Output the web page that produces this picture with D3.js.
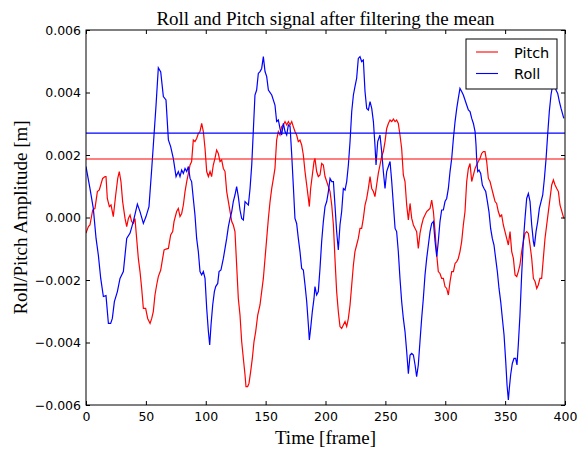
<!DOCTYPE html>
<html>
<head>
<meta charset="utf-8">
<script src="https://cdn.jsdelivr.net/npm/d3@7"></script>
<style>
  body { margin: 0; background: #fff; }
  svg { display: block; }
</style>
</head>
<body>
<svg id="chart" width="577" height="449"></svg>
<script>
// frames and values
const rollFrames = [
  0.0, 3.3, 6.1, 8.4, 10.3, 12.3, 14.5, 16.7, 18.7, 20.6, 22.0, 23.7, 26.2, 28.4, 31.2, 34.0, 36.8, 39.5, 42.9, 45.1,
  47.9, 50.1, 52.6, 54.9, 56.8, 58.5, 60.4, 62.4, 64.6, 66.8, 68.8, 70.7, 72.9, 75.2, 77.1, 78.5, 79.9, 81.3, 82.7, 84.1,
  85.5, 86.9, 88.2, 89.6, 91.0, 92.4, 93.8, 95.2, 96.6, 98.0, 99.4, 100.8, 102.2, 103.3, 104.4, 105.8, 107.2, 108.3, 110.0, 111.1,
  112.7, 114.7, 116.1, 117.5, 118.9, 120.3, 121.7, 123.0, 124.4, 125.8, 127.2, 128.6, 130.0, 131.4, 132.8, 134.2, 135.6, 137.0, 138.4, 139.7,
  141.1, 142.5, 143.9, 145.3, 146.7, 148.1, 149.5, 150.9, 152.3, 155.1, 157.8, 159.2, 160.6, 162.0, 163.4, 164.8, 166.2, 167.6, 169.0, 170.4,
  171.8, 173.1, 174.5, 175.9, 177.3, 178.7, 180.1, 181.5, 182.9, 184.3, 185.7, 186.5, 187.6, 189.0, 190.4, 191.2, 192.6, 194.0, 195.4, 196.8,
  198.2, 199.6, 201.0, 202.4, 203.8, 205.2, 206.6, 207.9, 209.3, 210.7, 212.1, 213.5, 214.9, 216.3, 217.7, 219.1, 220.5, 221.9, 223.3, 224.6,
  226.0, 227.4, 228.8, 230.2, 231.6, 233.0, 234.4, 235.8, 237.2, 238.6, 240.0, 241.3, 242.2, 243.6, 245.5, 246.9, 248.3, 249.7, 251.1, 252.5,
  253.9, 255.3, 256.7, 258.1, 259.4, 260.8, 262.2, 263.6, 265.0, 266.4, 267.8, 269.2, 270.6, 272.0, 273.4, 274.8, 276.1, 277.5, 278.9, 280.3,
  281.7, 283.1, 284.5, 285.9, 287.3, 288.7, 290.1, 291.5, 292.9, 294.2, 295.6, 297.0, 298.4, 299.8, 301.2, 302.6, 304.0, 305.4, 306.8, 308.2,
  309.6, 310.9, 312.3, 313.7, 315.1, 316.5, 317.9, 319.3, 320.7, 322.1, 323.5, 324.9, 325.7, 326.2, 327.1, 328.2, 329.6, 331.0, 332.4, 333.8,
  335.2, 336.5, 337.9, 339.3, 340.7, 342.1, 343.5, 344.9, 346.3, 347.7, 349.1, 350.5, 351.6, 352.7, 353.5, 354.6, 356.0, 357.4, 358.8, 359.9,
  361.0, 362.4, 363.8, 365.2, 366.6, 368.0, 369.4, 370.8, 372.2, 373.6, 374.4, 375.8, 377.2, 378.6, 380.0, 381.4, 382.8, 384.2, 385.5, 386.9,
  388.3, 389.7, 391.1, 392.5, 393.9, 395.3, 396.7, 399.0
]
const rollValues = [
  0.00163, 0.00093, 0.00029, -0.00067, -0.00120, -0.00195, -0.00253, -0.00250, -0.00339, -0.00339, -0.00323, -0.00269, -0.00237, -0.00195, -0.00173, -0.00067, -0.00050, -0.00013, 0.00043, 0.00019,
  -0.00019, 0.00003, 0.00035, 0.00157, 0.00264, 0.00360, 0.00479, 0.00466, 0.00387, 0.00376, 0.00248, 0.00227, 0.00189, 0.00131, 0.00147, 0.00131, 0.00152, 0.00141, 0.00157, 0.00147,
  0.00163, 0.00125, 0.00115, 0.00061, 0.00008, -0.00067, -0.00109, -0.00173, -0.00184, -0.00173, -0.00195, -0.00291, -0.00365, -0.00408, -0.00344, -0.00280, -0.00237, -0.00221, -0.00211, -0.00173,
  -0.00168, -0.00131, -0.00099, -0.00067, -0.00029, -0.00003, 0.00019, 0.00051, 0.00072, 0.00099, 0.00067, 0.00024, -0.00003, -0.00008, 0.00051, 0.00045, 0.00040, 0.00093, 0.00168, 0.00275,
  0.00392, 0.00408, 0.00461, 0.00467, 0.00477, 0.00515, 0.00467, 0.00451, 0.00408, 0.00392, 0.00360, 0.00307, 0.00312, 0.00285, 0.00264, 0.00301, 0.00275, 0.00264, 0.00296, 0.00291,
  0.00200, 0.00104, -0.00003, -0.00019, -0.00067, -0.00109, -0.00163, -0.00168, -0.00216, -0.00269, -0.00344, -0.00392, -0.00355, -0.00301, -0.00259, -0.00221, -0.00248, -0.00237, -0.00163, -0.00077,
  -0.00013, 0.00035, 0.00051, 0.00083, 0.00125, 0.00115, 0.00115, 0.00040, -0.00045, -0.00104, -0.00024, 0.00019, 0.00093, 0.00088, 0.00115, 0.00168, 0.00243, 0.00339, 0.00392, 0.00419,
  0.00445, 0.00509, 0.00515, 0.00499, 0.00504, 0.00403, 0.00349, 0.00344, 0.00371, 0.00349, 0.00307, 0.00232, 0.00168, 0.00243, 0.00264, 0.00211, 0.00147, 0.00093, 0.00147, 0.00163,
  0.00179, 0.00115, 0.00040, -0.00035, -0.00045, -0.00109, -0.00195, -0.00269, -0.00323, -0.00365, -0.00429, -0.00500, -0.00440, -0.00435, -0.00440, -0.00472, -0.00509, -0.00472, -0.00397, -0.00323,
  -0.00259, -0.00184, -0.00131, -0.00088, -0.00045, -0.00019, -0.00013, -0.00077, -0.00125, -0.00077, -0.00013, 0.00024, 0.00024, 0.00051, 0.00061, 0.00093, 0.00147, 0.00189, 0.00253, 0.00307,
  0.00349, 0.00381, 0.00413, 0.00403, 0.00392, 0.00376, 0.00360, 0.00344, 0.00339, 0.00317, 0.00301, 0.00275, 0.00232, 0.00189, 0.00147, 0.00152, 0.00141, 0.00104, 0.00093, 0.00083,
  0.00051, 0.00019, -0.00035, -0.00067, -0.00088, -0.00131, -0.00173, -0.00227, -0.00269, -0.00323, -0.00376, -0.00461, -0.00536, -0.00584, -0.00547, -0.00504, -0.00467, -0.00451, -0.00451, -0.00472,
  -0.00408, -0.00312, -0.00184, -0.00077, -0.00003, 0.00061, 0.00077, 0.00051, -0.00024, -0.00077, -0.00093, -0.00045, -0.00013, 0.00029, 0.00051, 0.00072, 0.00125, 0.00189, 0.00264, 0.00339,
  0.00392, 0.00424, 0.00429, 0.00408, 0.00397, 0.00371, 0.00349, 0.00317
]

const pitchFrames = [
  0.0, 2.0, 3.3, 5.6, 7.5, 9.5, 11.1, 12.3, 13.9, 15.9, 16.7, 17.8, 19.5, 20.9, 22.8, 24.8, 26.5, 27.8, 29.2, 30.6,
  32.6, 34.0, 35.4, 36.8, 38.1, 39.5, 40.9, 42.3, 43.7, 45.1, 46.5, 47.9, 49.8, 51.5, 53.5, 54.9, 56.2, 57.6, 59.0, 60.4,
  62.4, 64.0, 65.2, 66.8, 68.8, 70.7, 72.4, 73.5, 75.7, 77.1, 78.5, 79.9, 81.3, 82.7, 84.1, 85.5, 86.9, 88.2, 89.6, 91.0,
  92.4, 93.8, 95.2, 96.6, 98.0, 99.4, 100.8, 102.2, 103.6, 104.9, 106.3, 107.7, 109.1, 110.5, 111.9, 113.3, 114.7, 116.1, 117.5, 118.9,
  120.3, 121.7, 123.0, 124.4, 125.8, 127.2, 128.6, 130.0, 131.4, 132.8, 133.6, 135.0, 136.1, 137.5, 138.9, 140.3, 141.7, 143.4, 145.3, 146.7,
  148.1, 149.5, 150.9, 152.3, 153.7, 155.1, 156.5, 157.8, 159.2, 160.6, 162.0, 163.4, 164.8, 166.2, 167.6, 169.0, 170.4, 171.8, 173.1, 174.5,
  175.9, 177.3, 178.7, 180.1, 181.5, 182.9, 184.3, 185.7, 186.5, 187.6, 189.0, 190.4, 191.2, 192.6, 194.0, 195.4, 196.8, 198.2, 199.6, 201.0,
  202.4, 203.8, 205.2, 206.6, 207.9, 209.3, 210.7, 212.1, 213.5, 214.9, 216.3, 217.7, 219.1, 220.5, 221.9, 223.3, 224.6, 226.0, 227.4, 228.8,
  230.2, 231.6, 233.0, 234.4, 235.8, 237.2, 238.6, 240.0, 241.3, 242.7, 244.1, 245.5, 246.9, 248.3, 249.7, 251.1, 252.5, 253.9, 255.3, 256.7,
  258.1, 259.4, 260.8, 262.2, 263.6, 265.0, 266.4, 267.8, 269.2, 270.6, 272.0, 273.4, 274.8, 276.1, 277.5, 278.9, 280.3, 281.7, 283.1, 284.5,
  285.9, 287.3, 288.7, 290.1, 291.5, 292.9, 294.2, 295.6, 297.0, 298.4, 299.8, 301.2, 302.6, 304.0, 305.4, 306.8, 308.2, 309.6, 310.9, 312.3,
  313.7, 315.1, 316.5, 317.9, 319.3, 320.7, 322.1, 323.5, 324.9, 326.2, 327.6, 329.0, 330.4, 331.8, 333.2, 334.6, 336.0, 337.4, 338.8, 340.2,
  341.6, 342.9, 344.3, 345.7, 347.1, 348.5, 349.9, 351.3, 352.7, 354.1, 355.5, 356.9, 358.3, 359.7, 361.0, 362.4, 363.8, 365.2, 366.6, 368.0,
  369.4, 370.8, 372.2, 373.6, 375.0, 376.4, 377.7, 379.1, 380.5, 381.9, 383.3, 384.7, 386.1, 387.5, 388.9, 390.3, 391.7, 393.1, 394.5, 395.8,
  399.0
]
const pitchValues = [
  -0.00050, -0.00029, -0.00024, 0.00024, 0.00029, 0.00083, 0.00088, 0.00104, 0.00125, 0.00131, 0.00131, 0.00061, 0.00035, 0.00040, 0.00003, 0.00072, 0.00125, 0.00147, 0.00115, 0.00051,
  -0.00003, -0.00029, -0.00003, 0.00008, -0.00013, -0.00019, -0.00003, -0.00067, -0.00131, -0.00173, -0.00227, -0.00291, -0.00291, -0.00323, -0.00339, -0.00323, -0.00301, -0.00248, -0.00216, -0.00189,
  -0.00168, -0.00131, -0.00104, -0.00101, -0.00099, -0.00056, -0.00045, -0.00013, 0.00019, 0.00029, 0.00003, 0.00013, 0.00040, 0.00083, 0.00115, 0.00141, 0.00168, 0.00179, 0.00248, 0.00243,
  0.00253, 0.00269, 0.00275, 0.00301, 0.00275, 0.00221, 0.00147, 0.00131, 0.00147, 0.00131, 0.00168, 0.00189, 0.00216, 0.00205, 0.00179, 0.00184, 0.00157, 0.00147, 0.00083, 0.00051,
  0.00019, -0.00013, -0.00024, -0.00045, -0.00152, -0.00259, -0.00312, -0.00397, -0.00451, -0.00504, -0.00541, -0.00541, -0.00531, -0.00493, -0.00451, -0.00397, -0.00365, -0.00312, -0.00280, -0.00237,
  -0.00195, -0.00131, -0.00067, -0.00003, 0.00051, 0.00093, 0.00125, 0.00157, 0.00248, 0.00275, 0.00264, 0.00291, 0.00296, 0.00307, 0.00296, 0.00307, 0.00296, 0.00307, 0.00291, 0.00275,
  0.00264, 0.00243, 0.00248, 0.00232, 0.00200, 0.00147, 0.00104, 0.00061, 0.00035, 0.00093, 0.00136, 0.00179, 0.00189, 0.00147, 0.00131, 0.00136, 0.00173, 0.00168, 0.00131, 0.00115,
  0.00099, 0.00083, 0.00040, -0.00024, -0.00131, -0.00237, -0.00301, -0.00349, -0.00355, -0.00344, -0.00333, -0.00349, -0.00323, -0.00280, -0.00216, -0.00152, -0.00109, -0.00088, -0.00067, -0.00035,
  -0.00035, -0.00003, 0.00040, 0.00061, 0.00093, 0.00131, 0.00093, 0.00083, 0.00067, 0.00104, 0.00141, 0.00168, 0.00195, 0.00211, 0.00243, 0.00285, 0.00301, 0.00312, 0.00307, 0.00315,
  0.00307, 0.00312, 0.00301, 0.00264, 0.00221, 0.00136, 0.00115, 0.00040, -0.00008, 0.00045, -0.00003, -0.00024, -0.00035, -0.00045, -0.00099, -0.00051, -0.00024, -0.00003, 0.00008, 0.00019,
  0.00024, 0.00029, 0.00056, 0.00019, -0.00045, -0.00120, -0.00173, -0.00179, -0.00195, -0.00195, -0.00221, -0.00227, -0.00248, -0.00205, -0.00173, -0.00173, -0.00147, -0.00141, -0.00131, -0.00109,
  -0.00077, -0.00024, 0.00019, 0.00115, 0.00157, 0.00173, 0.00115, 0.00136, 0.00157, 0.00168, 0.00179, 0.00189, 0.00205, 0.00211, 0.00211, 0.00179, 0.00125, 0.00115, 0.00093, 0.00072,
  0.00051, 0.00045, 0.00019, 0.00003, 0.00008, -0.00024, -0.00045, -0.00067, -0.00088, -0.00045, -0.00109, -0.00131, -0.00184, -0.00189, -0.00173, -0.00152, -0.00109, -0.00077, -0.00051, -0.00045,
  -0.00051, -0.00088, -0.00131, -0.00195, -0.00205, -0.00227, -0.00216, -0.00195, -0.00195, -0.00131, -0.00067, -0.00024, 0.00019, 0.00061, 0.00104, 0.00120, 0.00104, 0.00093, 0.00083, 0.00040,
  -0.00003
]

// mean levels drawn as horizontal lines
const pitchMean = 0.00187
const rollMean = 0.0027

const xTicks = [0, 50, 100, 150, 200, 250, 300, 350, 400]
const yTicks = [-0.006, -0.004, -0.002, 0, 0.002, 0.004, 0.006]
const seriesNames = ['Pitch', 'Roll']
const seriesColors = ['#ff0000', '#0000ff']

const margin = { top: 30, right: 12, bottom: 44, left: 86 }
const width = 577 - margin.left - margin.right
const height = 449 - margin.top - margin.bottom

const svg = d3.select('#chart')
const g = svg.append('g').attr('transform', `translate(${margin.left},${margin.top})`)

const x = d3.scaleLinear().domain([0, 400]).range([0, width])
const y = d3.scaleLinear().domain([-0.006, 0.006]).range([height, 0])

g.append('clipPath').attr('id', 'plot-clip')
  .append('rect').attr('width', width).attr('height', height)

const plot = g.append('g').attr('clip-path', 'url(#plot-clip)')

const line = d3.line()
  .x(d => x(d[0]))
  .y(d => y(d[1]))

const pitchData = d3.zip(pitchFrames, pitchValues)
const rollData = d3.zip(rollFrames, rollValues)

plot.append('path')
  .datum(pitchData)
  .attr('d', line)
  .attr('fill', 'none')
  .attr('stroke', seriesColors[0])
  .attr('stroke-width', 1.2)

plot.append('path')
  .datum(rollData)
  .attr('d', line)
  .attr('fill', 'none')
  .attr('stroke', seriesColors[1])
  .attr('stroke-width', 1.2)

plot.append('line')
  .attr('x1', x(0)).attr('x2', x(400))
  .attr('y1', y(pitchMean)).attr('y2', y(pitchMean))
  .attr('stroke', seriesColors[0]).attr('stroke-width', 1.1)

plot.append('line')
  .attr('x1', x(0)).attr('x2', x(400))
  .attr('y1', y(rollMean)).attr('y2', y(rollMean))
  .attr('stroke', seriesColors[1]).attr('stroke-width', 1.1)

// axes, ticks inside on all four sides
const tickFont = '12.5px "DejaVu Sans", sans-serif'

g.append('g')
  .attr('transform', `translate(0,${height})`)
  .call(d3.axisBottom(x).tickValues(xTicks).tickSize(-4).tickSizeOuter(0).tickPadding(7).tickFormat(d3.format('d')))
g.append('g')
  .call(d3.axisTop(x).tickValues(xTicks).tickSize(-4).tickSizeOuter(0).tickFormat(''))

g.append('g')
  .call(d3.axisLeft(y).tickValues(yTicks).tickSize(-4).tickSizeOuter(0).tickPadding(5).tickFormat(d3.format('.3f')))
g.append('g')
  .attr('transform', `translate(${width},0)`)
  .call(d3.axisRight(y).tickValues(yTicks).tickSize(-4).tickSizeOuter(0).tickFormat(''))

g.selectAll('.domain').remove()
g.selectAll('.tick line').attr('stroke', '#000')
g.selectAll('.tick text').style('font', tickFont).attr('fill', '#000')

g.append('rect')
  .attr('width', width).attr('height', height)
  .attr('fill', 'none').attr('stroke', '#000').attr('stroke-width', 1)

// titles
const serif = '"Liberation Serif", "DejaVu Serif", serif'

svg.append('text')
  .attr('x', margin.left + width / 2)
  .attr('y', 25)
  .attr('text-anchor', 'middle')
  .style('font-family', serif)
  .style('font-size', '19px')
  .text('Roll and Pitch signal after filtering the mean')

svg.append('text')
  .attr('x', margin.left + width / 2)
  .attr('y', 444)
  .attr('text-anchor', 'middle')
  .style('font-family', serif)
  .style('font-size', '19px')
  .text('Time [frame]')

svg.append('text')
  .attr('transform', `translate(27,${margin.top + height / 2}) rotate(-90)`)
  .attr('text-anchor', 'middle')
  .style('font-family', serif)
  .style('font-size', '19px')
  .text('Roll/Pitch Amplitude [m]')

// legend
const legend = svg.append('g').attr('transform', 'translate(466,39)')

legend.append('rect')
  .attr('width', 91).attr('height', 50)
  .attr('fill', '#fff').attr('stroke', '#000').attr('stroke-width', 1)

seriesNames.forEach((name, i) => {
  const row = legend.append('g').attr('transform', `translate(0,${13 + i * 21.5})`)
  row.append('line')
    .attr('x1', 10).attr('x2', 32)
    .attr('stroke', seriesColors[i]).attr('stroke-width', 1.1)
  row.append('text')
    .attr('x', 48).attr('y', 5.5)
    .style('font', '14.5px "DejaVu Sans", sans-serif')
    .text(name)
})
</script>
</body>
</html>
